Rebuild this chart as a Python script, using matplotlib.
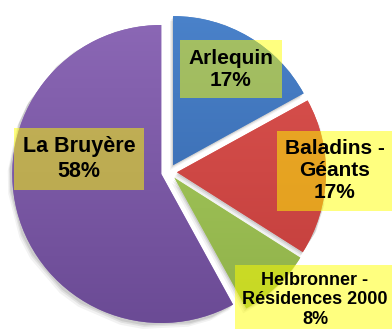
import numpy as np
import matplotlib
matplotlib.use("Agg")
from matplotlib import pyplot as plt
from matplotlib.colors import LinearSegmentedColormap

#--- Data
residences = ["Arlequin", "Baladins -\nGéants", "Helbronner -\nRésidences 2000", "La Bruyère"]
shares = [17, 17, 8, 58]

#--- Slice colours (top / bottom of the shading)
top_colors = ["#4a82ca", "#dc5450", "#a9cf62", "#8c68b6"]
bottom_colors = ["#3262a6", "#c03c3a", "#8fb048", "#6a4a94"]

W, H = 392, 329
fig = plt.figure(figsize=(W / 100, H / 100), dpi=100)
ax = fig.add_axes([0, 0, 1, 1])

cx, cy, r = 169, H - 172, 149

#--- explode is in data units here (radius is in pixels)
wedges, _ = ax.pie(
    shares,
    startangle=90,
    counterclock=False,
    explode=[8] * len(shares),
    radius=r,
    center=(cx, cy),
    colors=top_colors,
    wedgeprops=dict(linewidth=0),
    frame=True,
)

#--- soft grey shadow under the slices
for w in wedges:
    for k, a in [(5, 0.05), (3, 0.07), (1.5, 0.09)]:
        sh = plt.Polygon(w.get_path().vertices + np.array([-k * 0.6, -k]), closed=True,
                         fc="#000000", ec="none", alpha=a, zorder=w.get_zorder() - 0.5,
                         transform=w.get_transform())
        ax.add_patch(sh)

#--- vertical shading inside each slice
grad = np.linspace(0, 1, 256)[:, None]
for w, c_top, c_bot in zip(wedges, top_colors, bottom_colors):
    cmap = LinearSegmentedColormap.from_list("shade", [c_top, c_bot])
    im = ax.imshow(grad, cmap=cmap, extent=(cx - r - 10, cx + r + 10, cy - r - 10, cy + r + 10),
                   origin="upper", aspect="auto", zorder=w.get_zorder() + 0.1)
    im.set_clip_path(w)

#--- Labels in yellow boxes
label_pos = [(231, H - 69), (335, H - 171), (315, H - 300), (79, H - 159)]
label_size = [15, 15, 13, 15.5]
for name, pct, (x, y), fs in zip(residences, shares, label_pos, label_size):
    ax.text(x, y, f"{name}\n{pct}%", ha="center", va="center", fontsize=fs,
            fontweight="bold", family="Liberation Sans", linespacing=1.2, zorder=5,
            bbox=dict(boxstyle="square,pad=0.4", fc="#ffff00", ec="none", alpha=0.5))

ax.set_xlim(0, W)
ax.set_ylim(0, H)
ax.set_aspect("equal")
ax.axis("off")

plt.savefig("out.png", dpi=100)
